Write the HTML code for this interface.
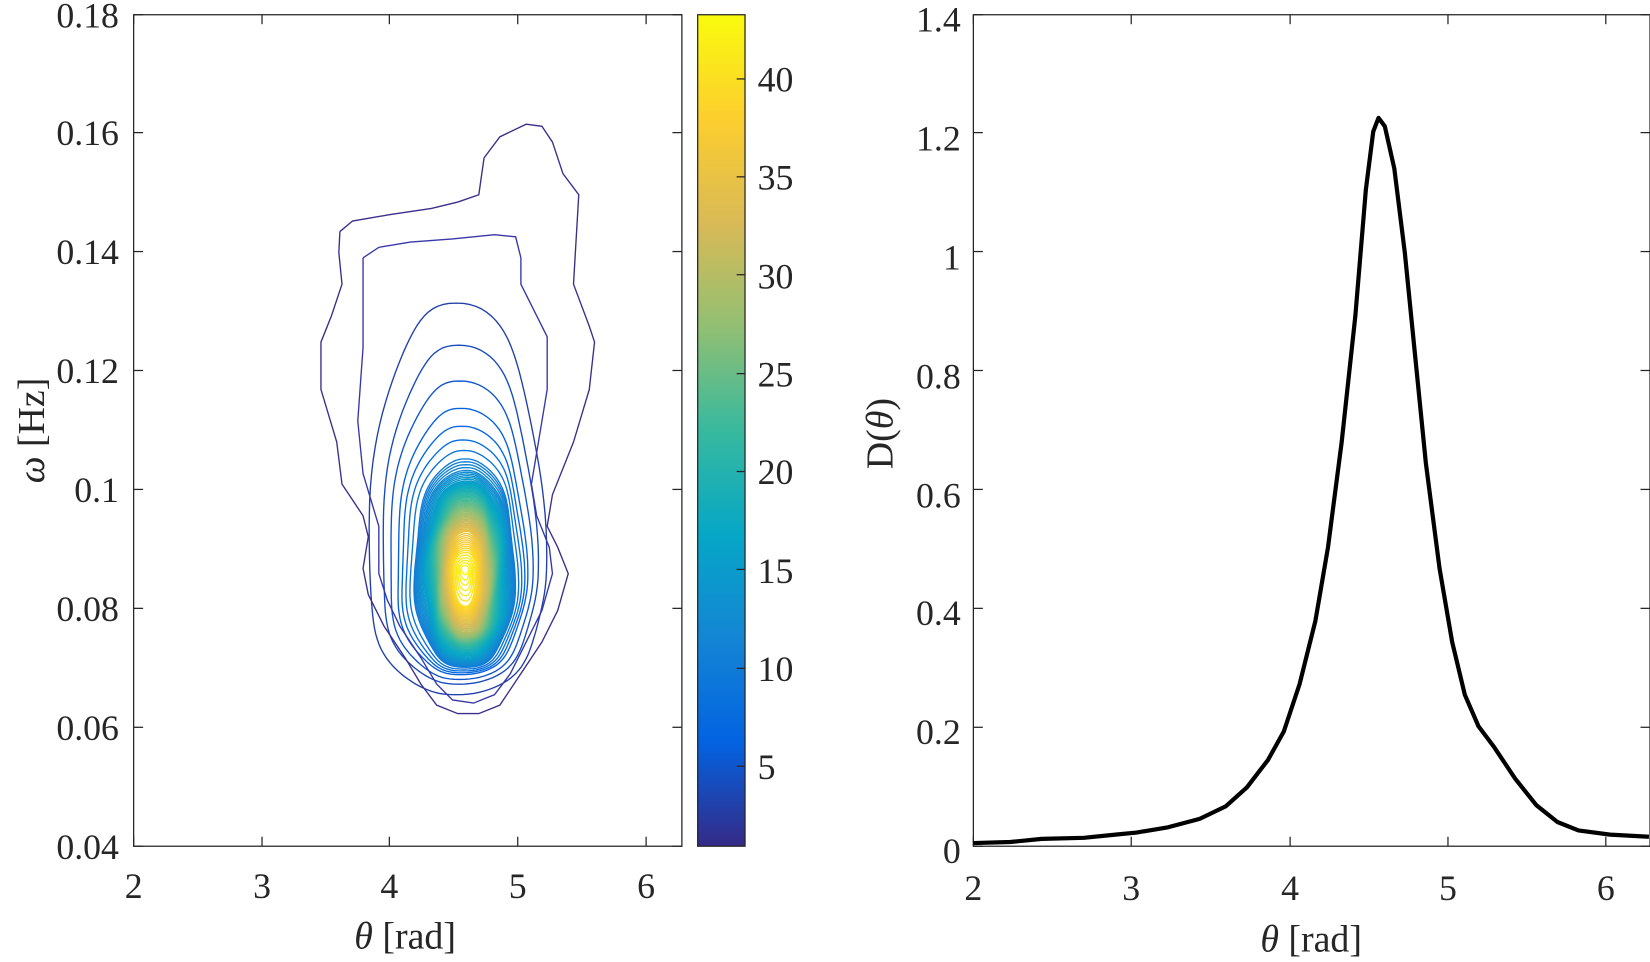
<!DOCTYPE html>
<html><head><meta charset="utf-8"><style>
html,body{margin:0;padding:0;background:#fff;}
svg{display:block;}
text{font-family:"Liberation Serif",serif;fill:#262626;}
</style></head><body>
<svg id="s" width="1650" height="962" viewBox="0 0 1568 914" preserveAspectRatio="none" xmlns="http://www.w3.org/2000/svg">
<defs>
<linearGradient id="pg" x1="0" y1="1" x2="0" y2="0">
<stop offset="0" stop-color="#352a87"/><stop offset="0.125" stop-color="#0363e1"/>
<stop offset="0.25" stop-color="#1485d4"/><stop offset="0.375" stop-color="#06a7c6"/>
<stop offset="0.5" stop-color="#38b99e"/><stop offset="0.625" stop-color="#92bf73"/>
<stop offset="0.75" stop-color="#d9ba56"/><stop offset="0.875" stop-color="#fcce2e"/>
<stop offset="1" stop-color="#f9fb0e"/>
</linearGradient>
</defs>
<rect width="1568" height="914" fill="#fff"/>
<g id="contours" fill="none" stroke-width="1.3" stroke-linejoin="round"></g>
<polyline fill="none" stroke="#3d2e8c" stroke-width="1.3" points="323,220 335,210 370,204 410,198 435,192 455,185 460,150 475,130 500,118 515,120 525,135 535,165 550,185 545,270 560,310 565,325 560,370 545,420 525,470 520,500 530,520 540,545 530,580 515,610 495,640 475,670 455,678 435,678 415,670 400,650 385,625 365,595 350,565 345,540 350,510 345,490 325,460 320,420 305,370 305,325 315,300 325,270 322,240 323,220"/>
<polyline fill="none" stroke="#3838a8" stroke-width="1.3" points="345,245 360,235 390,230 430,227 470,223 490,225 495,245 495,270 520,320 520,370 510,430 505,460 510,490 522,520 525,545 515,580 500,610 485,640 470,660 450,668 430,665 415,650 400,625 380,595 368,570 360,545 360,500 345,450 340,400 345,330 345,280 345,245"/>
<rect x="127" y="14" width="521" height="790" fill="none" stroke="#262626" stroke-width="1.2"/>
<g id="lt" stroke="#262626" stroke-width="1.2"></g>
<g font-size="34" text-anchor="middle">
<text x="127" y="853">2</text><text x="249" y="853">3</text><text x="370" y="853">4</text><text x="492" y="853">5</text><text x="614" y="853">6</text>
</g>
<g font-size="34" text-anchor="end">
<text x="113" y="816">0.04</text><text x="113" y="703">0.06</text><text x="113" y="590">0.08</text><text x="113" y="477">0.1</text><text x="113" y="364">0.12</text><text x="113" y="251">0.14</text><text x="113" y="138">0.16</text><text x="113" y="26">0.18</text>
</g>
<text x="385" y="901" font-size="36" text-anchor="middle"><tspan font-style="italic">θ</tspan> [rad]</text>
<text transform="translate(42,409) rotate(-90)" font-size="36" text-anchor="middle"><tspan font-style="italic">ω</tspan> [Hz]</text>
<rect x="663" y="14" width="45" height="790" fill="url(#pg)" stroke="#262626" stroke-width="1.2"/>
<g id="ct" stroke="#262626" stroke-width="1.2"></g>
<g font-size="34">
<text x="720" y="740">5</text><text x="720" y="647">10</text><text x="720" y="554">15</text><text x="720" y="460">20</text><text x="720" y="367">25</text><text x="720" y="274">30</text><text x="720" y="180">35</text><text x="720" y="87">40</text>
</g>
<rect x="925" y="14" width="643" height="790" fill="none" stroke="#262626" stroke-width="1.2"/>
<g id="rt" stroke="#262626" stroke-width="1.2"></g>
<g font-size="34" text-anchor="middle">
<text x="925" y="855">2</text><text x="1075" y="855">3</text><text x="1226" y="855">4</text><text x="1376" y="855">5</text><text x="1526" y="855">6</text>
</g>
<g font-size="34" text-anchor="end">
<text x="913" y="820">0</text><text x="913" y="707">0.2</text><text x="913" y="594">0.4</text><text x="913" y="482">0.6</text><text x="913" y="369">0.8</text><text x="913" y="256">1</text><text x="913" y="143">1.2</text><text x="913" y="30">1.4</text>
</g>
<text x="1246" y="904" font-size="36" text-anchor="middle"><tspan font-style="italic">θ</tspan> [rad]</text>
<text transform="translate(848,412) rotate(-90)" font-size="36" text-anchor="middle">D(<tspan font-style="italic">θ</tspan>)</text>
<polyline fill="none" stroke="#000" stroke-width="4" stroke-linejoin="round" points="925,801 960,800 990,797 1030,796 1060,793 1080,791 1110,786 1140,778 1165,766 1185,748 1205,722 1220,695 1235,650 1250,590 1262,520 1275,420 1288,300 1298,180 1305,125 1310,112 1316,120 1325,160 1335,240 1345,340 1355,440 1368,540 1380,610 1392,660 1405,690 1420,710 1440,740 1460,765 1480,781 1500,789 1530,793 1567,795"/>
</svg>
<script>
(function(){
var NS="http://www.w3.org/2000/svg";
function el(p,t,a){var e=document.createElementNS(NS,t);for(var k in a)e.setAttribute(k,a[k]);p.appendChild(e);return e;}
var stops=[[0,[53,42,135]],[0.125,[3,99,225]],[0.25,[20,133,212]],[0.375,[6,167,198]],[0.5,[56,185,158]],[0.625,[146,191,115]],[0.75,[217,186,86]],[0.875,[252,206,46]],[1,[249,251,14]]];
function par(t){t=Math.max(0,Math.min(1,t));for(var i=1;i<stops.length;i++){if(t<=stops[i][0]){var a=stops[i-1],b=stops[i],f=(t-a[0])/(b[0]-a[0]);return "rgb("+[0,1,2].map(function(j){return Math.round(a[1][j]+(b[1][j]-a[1][j])*f)}).join(",")+")";}}return "rgb(249,251,14)";}
function interp(tab,v){for(var i=1;i<tab.length;i++){if(v<=tab[i][0]){var a=tab[i-1],b=tab[i],f=(v-a[0])/(b[0]-a[0]);return a[1]+(b[1]-a[1])*f;}}return tab[tab.length-1][1];}
var TOP=[[3,288],[4,328],[5,362],[6,388],[7,405],[8,418],[9,428],[10,436],[12,447],[15,457],[20,468],[25,480],[30,492],[35,505],[40,525],[43,540]];
var BOT=[[3,660],[4,650],[6,641],[10,634],[15,626],[20,616],[30,601],[40,576],[43,546]];
var LEF=[[3,350],[4,363],[6,377],[10,394],[15,404],[20,411],[30,421],[40,431],[43,439]];
var RIG=[[3,518],[4,510],[6,500],[10,489],[15,481],[20,474],[30,464],[40,452],[43,444]];
var g=document.getElementById("contours");
var cy=541;
for(var v=3;v<=43;v+=(v<10?1:0.5)){
  var tp=interp(TOP,v),bt=interp(BOT,v),lf=interp(LEF,v),rt=interp(RIG,v);
  var cx=(lf+rt)/2+1, up=cy-tp, dn=bt-cy, WL=cx-lf, WR=rt-cx;
  var pts=[];
  for(var k=0;k<=120;k++){
    var a=k/120*2*Math.PI, c=Math.cos(a), s=Math.sin(a);
    var x=cx+(c>=0?WR:WL)*Math.sign(c)*Math.pow(Math.abs(c),0.85);
    var y=cy-(s>=0?up:dn)*Math.sign(s)*Math.pow(Math.abs(s),s>=0?1.0:0.85);
    var w=(43-v)/40;
    x+=1.8*Math.sin(a*6+v*0.3)*w;
    pts.push(x.toFixed(1)+","+y.toFixed(1));
  }
  el(g,"polyline",{points:pts.join(" "),stroke:par((v-0.93)/(43.3-0.93))});
}
el(g,"circle",{cx:442,cy:541,r:3,fill:"#fff",stroke:"none"});
function ticks(id,list){var p=document.getElementById(id);list.forEach(function(l){el(p,"line",{x1:l[0],y1:l[1],x2:l[2],y2:l[3]});});}
var A=[];
[127,249,370,492,614].forEach(function(x){A.push([x,804,x,795]);A.push([x,14,x,23]);});
[804,691,578,465,352,239,126,14].forEach(function(y){A.push([127,y,136,y]);A.push([648,y,639,y]);});
ticks("lt",A);
var C=[];[728,635,541,448,355,261,168,75].forEach(function(y){C.push([708,y,700,y]);});ticks("ct",C);
var B=[];
[925,1075,1226,1376,1526].forEach(function(x){B.push([x,804,x,795]);B.push([x,14,x,23]);});
[804,691,578,465,352,239,126,14].forEach(function(y){B.push([925,y,934,y]);B.push([1568,y,1559,y]);});
ticks("rt",B);
})();
</script>
</body></html>
